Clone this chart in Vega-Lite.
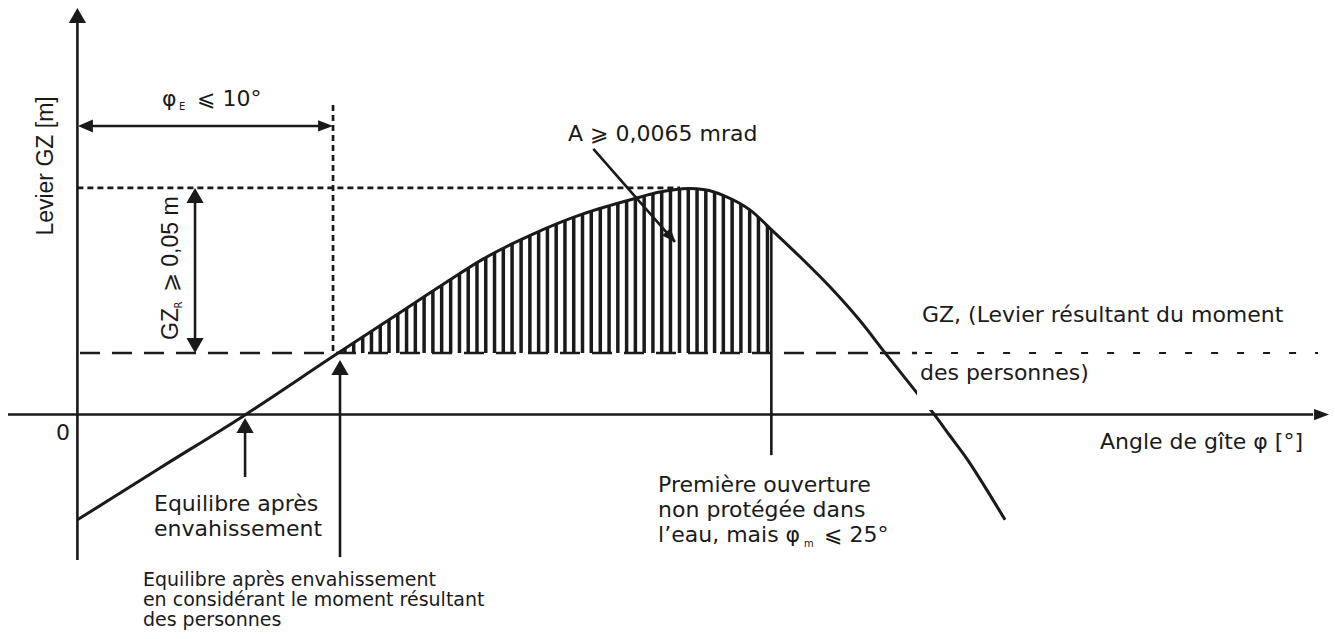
{
 "$schema": "https://vega.github.io/schema/vega-lite/v6.json",
 "width": 1335, "height": 639, "padding": 0, "autosize": {"type": "none"},
 "background": "white",
 "config": {"view": {"stroke": null}},
 "datasets": {
  "curve": [
   {"d": 0, "g": -31.9}, {"d": 3.2, "g": -16.2}, {"d": 6.5, "g": -0.1}, {"d": 10.18, "g": 19.0},
   {"d": 12.2, "g": 29.3}, {"d": 14.21, "g": 39.6}, {"d": 15.72, "g": 47.1}, {"d": 17.66, "g": 54.7},
   {"d": 19.6, "g": 60.8}, {"d": 21.54, "g": 65.3}, {"d": 22.58, "g": 67.4}, {"d": 23.67, "g": 68.5},
   {"d": 24.33, "g": 68.1}, {"d": 25.1, "g": 66.2}, {"d": 26.07, "g": 62.0}, {"d": 26.96, "g": 55.6},
   {"d": 28.01, "g": 47.8}, {"d": 29.17, "g": 38.7}, {"d": 30.34, "g": 28.4}, {"d": 31.31, "g": 18.7},
   {"d": 32.55, "g": 6.5}, {"d": 33.17, "g": 0.5}, {"d": 33.83, "g": -6.5}, {"d": 34.49, "g": -13.5},
   {"d": 35.18, "g": -21.9}, {"d": 35.96, "g": -31.9}
  ]
 },
 "layer": [
  {
   "data": {"values": [
    {"d": 10.37}, {"d": 10.71}, {"d": 11.06}, {"d": 11.40}, {"d": 11.74}, {"d": 12.08}, {"d": 12.42},
    {"d": 12.76}, {"d": 13.10}, {"d": 13.44}, {"d": 13.78}, {"d": 14.12}, {"d": 14.47}, {"d": 14.81},
    {"d": 15.15}, {"d": 15.49}, {"d": 15.83}, {"d": 16.17}, {"d": 16.51}, {"d": 16.85}, {"d": 17.20},
    {"d": 17.54}, {"d": 17.88}, {"d": 18.22}, {"d": 18.56}, {"d": 18.90}, {"d": 19.24}, {"d": 19.58},
    {"d": 19.92}, {"d": 20.27}, {"d": 20.61}, {"d": 20.95}, {"d": 21.29}, {"d": 21.63}, {"d": 21.97},
    {"d": 22.31}, {"d": 22.65}, {"d": 22.99}, {"d": 23.34}, {"d": 23.68}, {"d": 24.02}, {"d": 24.36},
    {"d": 24.70}, {"d": 25.04}, {"d": 25.38}, {"d": 25.72}, {"d": 26.06}, {"d": 26.40}, {"d": 26.75}
   ]},
   "mark": {"type": "rule", "color": "#1a1a1a", "strokeWidth": 3.5},
   "encoding": {
    "x": {"field": "d", "type": "quantitative", "scale": {"domain": [-3, 48.75], "nice": false, "zero": false}, "axis": null},
    "y": {"datum": 18.66, "type": "quantitative", "scale": {"domain": [-68, 125.6], "nice": false, "zero": false}, "axis": null},
    "y2": {"datum": 70}
   }
  },
  {
   "data": {"name": "curve"},
   "transform": [{"filter": "datum.d >= 6.4 && datum.d <= 31.4"}],
   "mark": {"type": "area", "color": "white", "interpolate": "monotone", "opacity": 1, "fillOpacity": 1},
   "encoding": {
    "x": {"field": "d", "type": "quantitative", "scale": {"domain": [-3, 48.75], "nice": false, "zero": false}, "axis": null},
    "y": {"field": "g", "type": "quantitative", "scale": {"domain": [-68, 125.6], "nice": false, "zero": false}, "axis": null},
    "y2": {"datum": 76}
   }
  },
  {
   "data": {"values": [
    {"x1": 0, "x2": 0, "y1": -44.1, "y2": 119.5},
    {"x1": -2.69, "x2": 47.9, "y1": 0, "y2": 0},
    {"x1": 0.3, "x2": 9.6, "y1": 87.44, "y2": 87.44},
    {"x1": 4.56, "x2": 4.56, "y1": 20.5, "y2": 66.8},
    {"x1": 6.5, "x2": 6.5, "y1": -18.9, "y2": -4},
    {"x1": 10.18, "x2": 10.18, "y1": -43.2, "y2": 14},
    {"x1": 26.9, "x2": 26.9, "y1": -12.3, "y2": 55.9},
    {"x1": 20.0, "x2": 23.16, "y1": 80.47, "y2": 52.3}
   ]},
   "mark": {"type": "rule", "color": "#1a1a1a", "strokeWidth": 2.6},
   "encoding": {
    "x": {"field": "x1", "type": "quantitative", "scale": {"domain": [-3, 48.75], "nice": false, "zero": false}, "axis": null},
    "x2": {"field": "x2"},
    "y": {"field": "y1", "type": "quantitative", "scale": {"domain": [-68, 125.6], "nice": false, "zero": false}, "axis": null},
    "y2": {"field": "y2"}
   }
  },
  {
   "data": {"values": [
    {"x1": 0, "x2": 23.36, "y1": 68.65, "y2": 68.65},
    {"x1": 9.91, "x2": 9.91, "y1": 93.8, "y2": 18.66}
   ]},
   "mark": {"type": "rule", "color": "#1a1a1a", "strokeWidth": 2.7, "strokeDash": [6, 4]},
   "encoding": {
    "x": {"field": "x1", "type": "quantitative", "scale": {"domain": [-3, 48.75], "nice": false, "zero": false}, "axis": null},
    "x2": {"field": "x2"},
    "y": {"field": "y1", "type": "quantitative", "scale": {"domain": [-68, 125.6], "nice": false, "zero": false}, "axis": null},
    "y2": {"field": "y2"}
   }
  },
  {
   "data": {"values": [{"x1": 0.1, "x2": 32.55, "y1": 18.66}]},
   "mark": {"type": "rule", "color": "#1a1a1a", "strokeWidth": 2.6, "strokeDash": [20, 12]},
   "encoding": {
    "x": {"field": "x1", "type": "quantitative", "scale": {"domain": [-3, 48.75], "nice": false, "zero": false}, "axis": null},
    "x2": {"field": "x2"},
    "y": {"field": "y1", "type": "quantitative", "scale": {"domain": [-68, 125.6], "nice": false, "zero": false}, "axis": null}
   }
  },
  {
   "data": {"name": "curve"},
   "mark": {"type": "line", "color": "#1a1a1a", "strokeWidth": 3, "interpolate": "monotone"},
   "encoding": {
    "x": {"field": "d", "type": "quantitative", "scale": {"domain": [-3, 48.75], "nice": false, "zero": false}, "axis": null},
    "y": {"field": "g", "type": "quantitative", "scale": {"domain": [-68, 125.6], "nice": false, "zero": false}, "axis": null}
   }
  },
  {
   "data": {"values": [{"x1": 32.55, "x2": 48.6, "y1": 1.4, "y2": 36.2}]},
   "mark": {"type": "rect", "color": "white", "opacity": 1},
   "encoding": {
    "x": {"field": "x1", "type": "quantitative", "scale": {"domain": [-3, 48.75], "nice": false, "zero": false}, "axis": null},
    "x2": {"field": "x2"},
    "y": {"field": "y1", "type": "quantitative", "scale": {"domain": [-68, 125.6], "nice": false, "zero": false}, "axis": null},
    "y2": {"field": "y2"}
   }
  },
  {
   "data": {"values": [{"x1": 32.86, "x2": 48.09, "y1": 18.66}]},
   "mark": {"type": "rule", "color": "#1a1a1a", "strokeWidth": 2, "strokeDash": [7, 19]},
   "encoding": {
    "x": {"field": "x1", "type": "quantitative", "scale": {"domain": [-3, 48.75], "nice": false, "zero": false}, "axis": null},
    "x2": {"field": "x2"},
    "y": {"field": "y1", "type": "quantitative", "scale": {"domain": [-68, 125.6], "nice": false, "zero": false}, "axis": null}
   }
  },
  {
   "data": {"values": [
    {"d": 0, "g": 120.92, "dir": "up"},
    {"d": 4.56, "g": 66.38, "dir": "up"},
    {"d": 6.5, "g": -3.3, "dir": "up"},
    {"d": 10.18, "g": 14.27, "dir": "up"},
    {"d": 4.56, "g": 20.94, "dir": "down"},
    {"d": 0.31, "g": 87.44, "dir": "left"},
    {"d": 9.62, "g": 87.44, "dir": "right"},
    {"d": 48.23, "g": 0, "dir": "right"}
   ]},
   "mark": {"type": "point", "filled": true, "opacity": 1, "color": "#1a1a1a", "size": 225, "strokeWidth": 0},
   "encoding": {
    "x": {"field": "d", "type": "quantitative", "scale": {"domain": [-3, 48.75], "nice": false, "zero": false}, "axis": null},
    "y": {"field": "g", "type": "quantitative", "scale": {"domain": [-68, 125.6], "nice": false, "zero": false}, "axis": null},
    "shape": {"field": "dir", "type": "nominal", "legend": null,
     "scale": {"domain": ["up", "down", "left", "right"],
      "range": ["M0,-1L1.15,1L-1.15,1Z", "M0,1L1.15,-1L-1.15,-1Z", "M-1,0L1,-0.87L1,0.87Z", "M1,0L-1,-0.75L-1,0.75Z"]}}
   }
  },
  {
   "data": {"values": [{"d": 23.01, "g": 53.81}]},
   "mark": {"type": "point", "filled": true, "opacity": 1, "color": "#1a1a1a", "size": 196, "strokeWidth": 0, "angle": 138, "shape": "M0,-1L0.8,1L-0.8,1Z"},
   "encoding": {
    "x": {"field": "d", "type": "quantitative", "scale": {"domain": [-3, 48.75], "nice": false, "zero": false}, "axis": null},
    "y": {"field": "g", "type": "quantitative", "scale": {"domain": [-68, 125.6], "nice": false, "zero": false}, "axis": null}
   }
  },
  {
   "data": {"values": [
    {"d": 19.02, "g": 84.98, "t": "A ⩾ 0,0065 mrad"},
    {"d": 3.28, "g": 95.62, "t": "φ"},
    {"d": 4.64, "g": 95.62, "t": "⩽ 10°"},
    {"d": 2.97, "g": -27.08, "t": "Equilibre après"},
    {"d": 2.97, "g": -34.66, "t": "envahissement"},
    {"d": 22.51, "g": -21.33, "t": "Première ouverture"},
    {"d": 22.51, "g": -28.9, "t": "non protégée dans"},
    {"d": 22.51, "g": -36.48, "t": "l’eau, mais φ"},
    {"d": 28.94, "g": -36.48, "t": "⩽ 25°"},
    {"d": 32.74, "g": 30.18, "t": "GZ, (Levier résultant du moment"},
    {"d": 32.66, "g": 12.6, "t": "des personnes)"}
   ]},
   "mark": {"type": "text", "font": "DejaVu Sans", "fontSize": 22, "align": "left", "baseline": "middle", "color": "#1a1a1a"},
   "encoding": {
    "x": {"field": "d", "type": "quantitative", "scale": {"domain": [-3, 48.75], "nice": false, "zero": false}, "axis": null},
    "y": {"field": "g", "type": "quantitative", "scale": {"domain": [-68, 125.6], "nice": false, "zero": false}, "axis": null},
    "text": {"field": "t", "type": "nominal"}
   }
  },
  {
   "data": {"values": [
    {"d": 2.54, "g": -50.11, "t": "Equilibre après envahissement"},
    {"d": 2.54, "g": -56.17, "t": "en considérant le moment résultant"},
    {"d": 2.54, "g": -62.23, "t": "des personnes"}
   ]},
   "mark": {"type": "text", "font": "DejaVu Sans", "fontSize": 19, "align": "left", "baseline": "middle", "color": "#1a1a1a"},
   "encoding": {
    "x": {"field": "d", "type": "quantitative", "scale": {"domain": [-3, 48.75], "nice": false, "zero": false}, "axis": null},
    "y": {"field": "g", "type": "quantitative", "scale": {"domain": [-68, 125.6], "nice": false, "zero": false}, "axis": null},
    "text": {"field": "t", "type": "nominal"}
   }
  },
  {
   "data": {"values": [{"d": 47.51, "g": -8.3, "t": "Angle de gîte φ [°]"}]},
   "mark": {"type": "text", "font": "DejaVu Sans", "fontSize": 22, "align": "right", "baseline": "middle", "color": "#1a1a1a"},
   "encoding": {
    "x": {"field": "d", "type": "quantitative", "scale": {"domain": [-3, 48.75], "nice": false, "zero": false}, "axis": null},
    "y": {"field": "g", "type": "quantitative", "scale": {"domain": [-68, 125.6], "nice": false, "zero": false}, "axis": null},
    "text": {"field": "t", "type": "nominal"}
   }
  },
  {
   "data": {"values": [{"d": -0.56, "g": -5.57, "t": "0"}]},
   "mark": {"type": "text", "font": "DejaVu Sans", "fontSize": 22, "align": "center", "baseline": "middle", "color": "#1a1a1a"},
   "encoding": {
    "x": {"field": "d", "type": "quantitative", "scale": {"domain": [-3, 48.75], "nice": false, "zero": false}, "axis": null},
    "y": {"field": "g", "type": "quantitative", "scale": {"domain": [-68, 125.6], "nice": false, "zero": false}, "axis": null},
    "text": {"field": "t", "type": "nominal"}
   }
  },
  {
   "data": {"values": [
    {"d": 3.94, "g": 93.05, "t": "E"},
    {"d": 28.17, "g": -39.36, "t": "m"}
   ]},
   "mark": {"type": "text", "font": "DejaVu Sans", "fontSize": 10, "align": "left", "baseline": "middle", "color": "#1a1a1a"},
   "encoding": {
    "x": {"field": "d", "type": "quantitative", "scale": {"domain": [-3, 48.75], "nice": false, "zero": false}, "axis": null},
    "y": {"field": "g", "type": "quantitative", "scale": {"domain": [-68, 125.6], "nice": false, "zero": false}, "axis": null},
    "text": {"field": "t", "type": "nominal"}
   }
  },
  {
   "data": {"values": [{"d": 3.92, "g": 33.2, "t": "R"}]},
   "mark": {"type": "text", "font": "DejaVu Sans", "fontSize": 10, "align": "center", "baseline": "middle", "angle": 270, "color": "#1a1a1a"},
   "encoding": {
    "x": {"field": "d", "type": "quantitative", "scale": {"domain": [-3, 48.75], "nice": false, "zero": false}, "axis": null},
    "y": {"field": "g", "type": "quantitative", "scale": {"domain": [-68, 125.6], "nice": false, "zero": false}, "axis": null},
    "text": {"field": "t", "type": "nominal"}
   }
  },
  {
   "data": {"values": [
    {"d": 3.63, "g": 22.6, "t": "GZ"},
    {"d": 3.63, "g": 37.1, "t": "⩾ 0,05 m"}
   ]},
   "mark": {"type": "text", "font": "Liberation Sans", "fontSize": 23, "align": "left", "baseline": "middle", "angle": 270, "color": "#1a1a1a"},
   "encoding": {
    "x": {"field": "d", "type": "quantitative", "scale": {"domain": [-3, 48.75], "nice": false, "zero": false}, "axis": null},
    "y": {"field": "g", "type": "quantitative", "scale": {"domain": [-68, 125.6], "nice": false, "zero": false}, "axis": null},
    "text": {"field": "t", "type": "nominal"}
   }
  },
  {
   "data": {"values": [{"d": -1.2, "g": 75.32, "t": "Levier GZ [m]"}]},
   "mark": {"type": "text", "font": "Liberation Sans", "fontSize": 23, "align": "center", "baseline": "middle", "angle": 270, "color": "#1a1a1a"},
   "encoding": {
    "x": {"field": "d", "type": "quantitative", "scale": {"domain": [-3, 48.75], "nice": false, "zero": false}, "axis": null},
    "y": {"field": "g", "type": "quantitative", "scale": {"domain": [-68, 125.6], "nice": false, "zero": false}, "axis": null},
    "text": {"field": "t", "type": "nominal"}
   }
  }
 ]
}
